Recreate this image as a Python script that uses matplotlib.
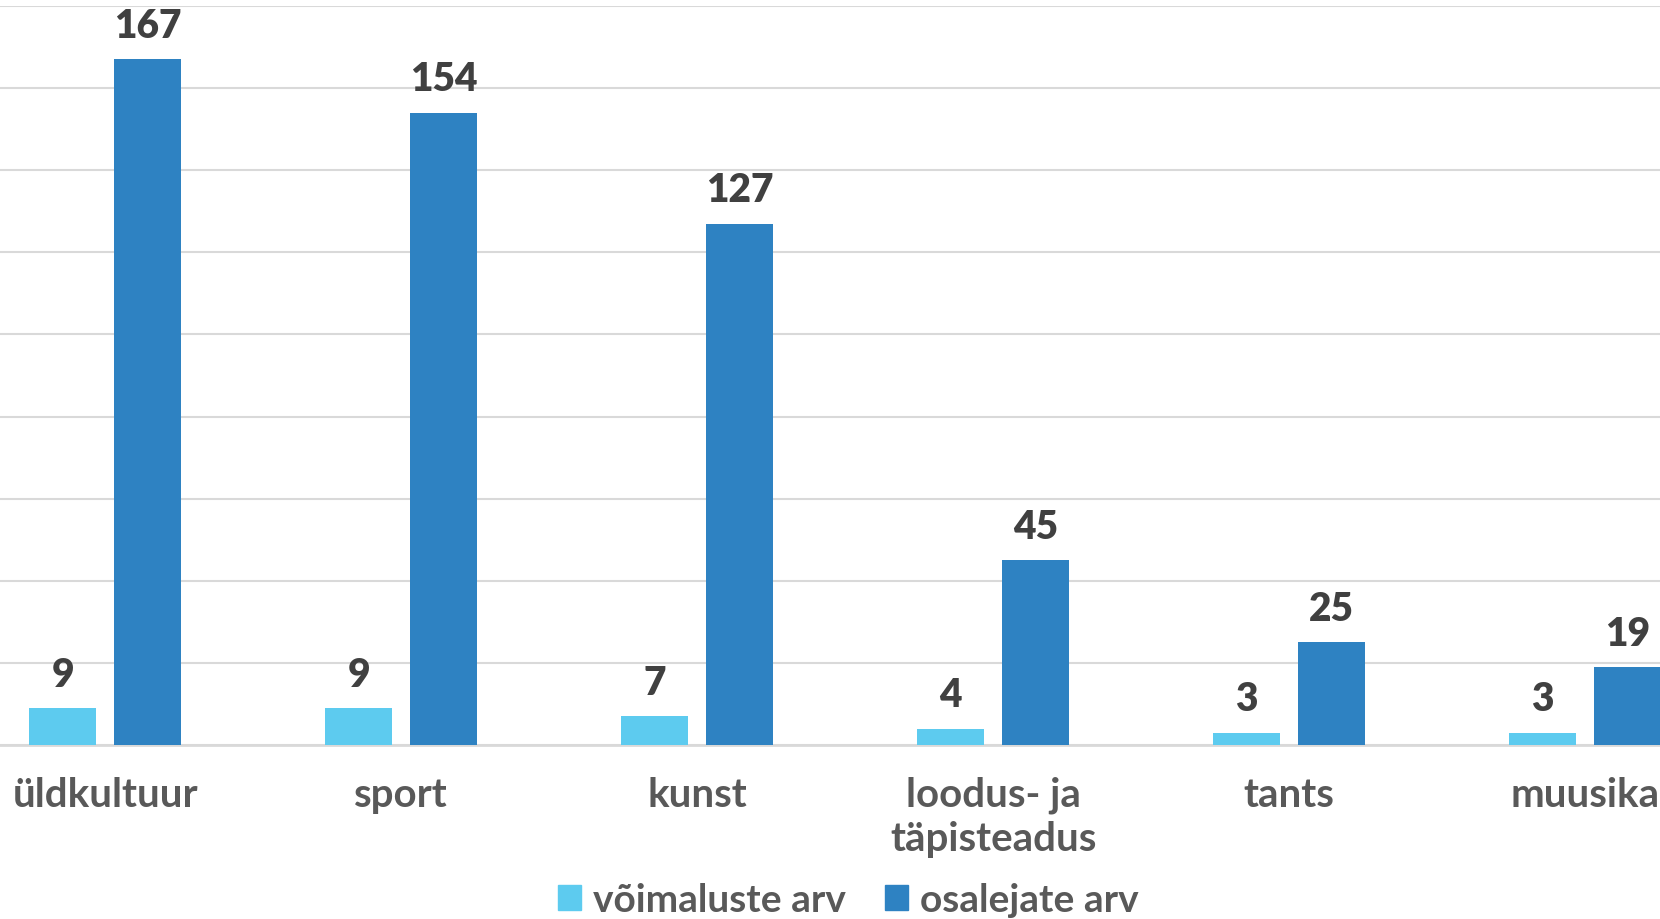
import matplotlib
matplotlib.use("Agg")
import matplotlib.pyplot as plt
import numpy as np
from matplotlib.patches import Patch

categories = ["üldkultuur", "sport", "kunst", "loodus- ja\ntäpisteadus", "tants", "muusika"]
voimalused = [9, 9, 7, 4, 3, 3]
osalejad = [167, 154, 127, 45, 25, 19]
series_names = ["võimaluste arv", "osalejate arv"]

light = "#5DCBEF"
dark = "#2E82C2"
font = ["Lato", "DejaVu Sans"]

fig = plt.figure(figsize=(16.6, 9.2), dpi=100)
ax = fig.add_axes([0, 0.1891, 1, 0.8033])

x = np.arange(len(categories))
w = 0.2264
off = 0.1436
b1 = ax.bar(x - off, voimalused, w, color=light, zorder=3)
b2 = ax.bar(x + off, osalejad, w, color=dark, zorder=3)

for bars in (b1, b2):
    for rect in bars:
        ax.annotate(f"{int(rect.get_height())}",
                    (rect.get_x() + rect.get_width() / 2, rect.get_height()),
                    xytext=(0, 11), textcoords="offset points",
                    ha="center", va="bottom", fontsize=28, fontweight="heavy",
                    color="#404040", family=font)

ax.set_xlim(-0.355, 5.253)
ax.set_ylim(0, 180)
ax.set_yticks(np.arange(0, 181, 20))
ax.yaxis.grid(True, color="#D9D9D9", linewidth=1.5, zorder=0)
ax.set_yticklabels([])
ax.tick_params(axis="y", length=0)
ax.tick_params(axis="x", length=0, pad=22)
ax.set_xticks(x)
ax.set_xticklabels(categories, fontsize=29, color="#595959", family=font,
                   fontweight="bold", linespacing=1.22, va="top")
for s in ("top", "right", "left"):
    ax.spines[s].set_visible(False)
ax.spines["bottom"].set_color("#D9D9D9")
ax.spines["bottom"].set_linewidth(2)

handles = [Patch(color=light), Patch(color=dark)]
fig.legend(handles, series_names, loc="center", bbox_to_anchor=(0.511, 0.021),
           ncol=2, frameon=False, handlelength=0.6, handleheight=0.6,
           handletextpad=0.3, columnspacing=1.0,
           prop={"family": font, "size": 28, "weight": "bold"}, labelcolor="#595959")

fig.savefig("out.png", dpi=100)
